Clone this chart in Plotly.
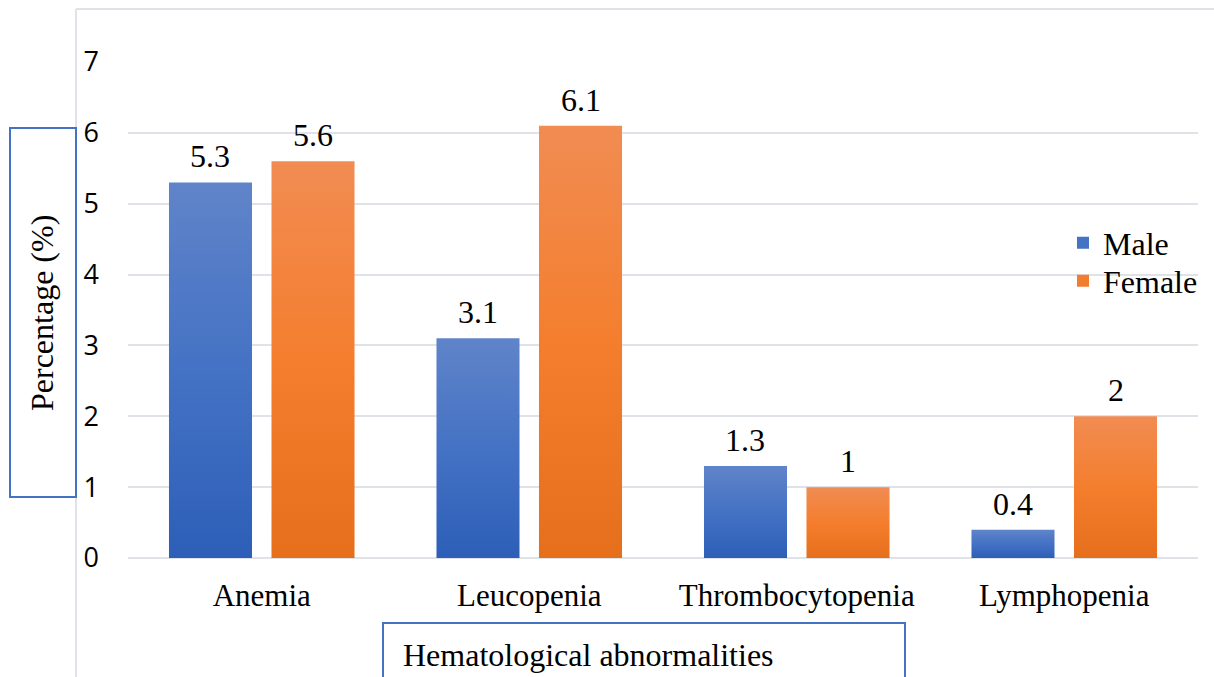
import plotly.graph_objects as go

categories = ["Anemia", "Leucopenia", "Thrombocytopenia", "Lymphopenia"]
male = [5.3, 3.1, 1.3, 0.4]
female = [5.6, 6.1, 1.0, 2.0]
y_ticks = [0, 1, 2, 3, 4, 5, 6, 7]

W, H = 1214, 677
L, R, T, B = 128, 16, 62, 119
pw, ph = W - L - R, H - T - B

def px(x):
    return (x - L) / pw

def py(y):
    return (H - B - y) / ph

serif = "Liberation Serif"
sans = "Open Sans"
FS = 32

BARGAP = 0.2336
BARGROUPGAP = 0.19
cat_px = pw / len(categories)
slot_px = cat_px * (1 - BARGAP) / 2

fig = go.Figure()
fig.add_trace(go.Bar(x=categories, y=male, name="Male", marker_color="#4472c4", legend="legend"))
fig.add_trace(go.Bar(x=categories, y=female, name="Female", marker_color="#f17d2e", legend="legend2"))
fig.update_traces(cliponaxis=False, marker_line_width=0)

shapes = [
    dict(type="line", xref="paper", yref="paper", x0=px(76), x1=px(1214), y0=py(9), y1=py(9),
         line=dict(color="#dfe2e7", width=2)),
    dict(type="line", xref="paper", yref="paper", x0=px(76), x1=px(76), y0=py(9), y1=py(700),
         line=dict(color="#dfe2e7", width=2)),
    dict(type="rect", xref="paper", yref="paper", x0=px(10), x1=px(76), y0=py(497), y1=py(128),
         line=dict(color="#4472c4", width=2), fillcolor="white"),
    dict(type="rect", xref="paper", yref="paper", x0=px(383), x1=px(905), y0=py(700), y1=py(623),
         line=dict(color="#4472c4", width=2), fillcolor="white"),
]

annotations = [
    dict(text="Percentage (%)", xref="paper", yref="paper", x=px(42), y=py(313),
         textangle=-90, showarrow=False, font=dict(family=serif, size=FS, color="#000"),
         xanchor="center", yanchor="middle"),
    dict(text="Hematological abnormalities", xref="paper", yref="paper", x=px(401), y=py(655),
         showarrow=False, font=dict(family=serif, size=FS, color="#000"),
         xanchor="left", yanchor="middle"),
]

for vals, sign in ((male, -1), (female, 1)):
    for c, v in zip(categories, vals):
        annotations.append(dict(text=f"{v:g}", x=c, y=v, xref="x", yref="y",
                                xshift=sign * slot_px / 2, yshift=6, showarrow=False,
                                xanchor="center", yanchor="bottom",
                                font=dict(family=serif, size=FS, color="#000")))

legend_common = dict(xref="container", yref="container", xanchor="left", yanchor="middle",
                     bgcolor="rgba(0,0,0,0)", font=dict(family=serif, size=FS, color="#000"),
                     itemwidth=30)

fig.update_layout(
    width=W, height=H,
    margin=dict(l=L, r=R, t=T, b=B, autoexpand=False),
    paper_bgcolor="white", plot_bgcolor="white",
    barmode="group", bargap=BARGAP, bargroupgap=BARGROUPGAP,
    showlegend=True,
    legend=dict(x=1063 / W, y=1 - 243 / H, **legend_common),
    legend2=dict(x=1063 / W, y=1 - 281 / H, **legend_common),
    xaxis=dict(showgrid=False, showline=False, ticks="",
               tickfont=dict(family=serif, size=FS - 1, color="#000"),
               range=[-0.5, 3.5], ticklabelstandoff=16),
    yaxis=dict(range=[0, 7], tickvals=y_ticks, showgrid=True, gridcolor="#dfe2e7", gridwidth=1.5,
               zeroline=True, zerolinecolor="#dfe2e7", zerolinewidth=1.5, showline=False,
               tickfont=dict(family=sans, size=27, color="#000"), ticklabelstandoff=28),
    shapes=shapes,
    annotations=annotations,
)

post_js = """
document.body.style.margin='0';
(function(){
  var gd = document.getElementById('{plot_id}');
  var ns = 'http://www.w3.org/2000/svg';
  function mk(svg, id, stops){
    if (svg.querySelector('#' + id)) return;
    var defs = svg.querySelector('defs');
    if (!defs) { defs = document.createElementNS(ns, 'defs'); svg.insertBefore(defs, svg.firstChild); }
    var g = document.createElementNS(ns, 'linearGradient');
    g.setAttribute('id', id);
    g.setAttribute('x1', '0'); g.setAttribute('y1', '0');
    g.setAttribute('x2', '0'); g.setAttribute('y2', '1');
    stops.forEach(function(s){
      var st = document.createElementNS(ns, 'stop');
      st.setAttribute('offset', s[0]); st.setAttribute('stop-color', s[1]);
      g.appendChild(st);
    });
    defs.appendChild(g);
  }
  function apply(){
    var svg = gd.querySelector('svg.main-svg');
    if (!svg) return;
    mk(svg, 'gradMale', [['0', '#6084c9'], ['0.5', '#4472c4'], ['1', '#2d5fb8']]);
    mk(svg, 'gradFemale', [['0', '#f18c52'], ['0.5', '#f47e2e'], ['1', '#e56f1b']]);
    var ids = ['gradMale', 'gradFemale'];
    gd.querySelectorAll('.barlayer .trace.bars').forEach(function(t, i){
      t.querySelectorAll('.point path').forEach(function(p){
        p.style.fill = 'url(#' + ids[i % 2] + ')';
      });
    });
  }
  apply();
  setTimeout(apply, 30);
})();
"""

fig.write_html("out.html", config={"displayModeBar": False}, post_script=post_js)
